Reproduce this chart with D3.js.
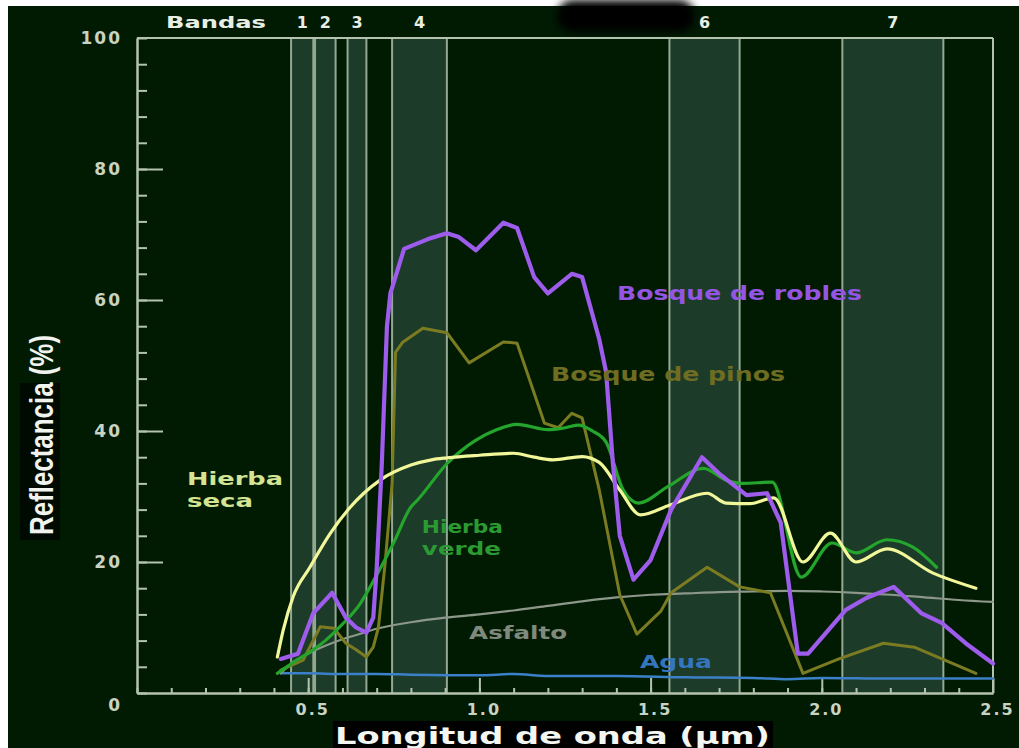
<!DOCTYPE html>
<html>
<head>
<meta charset="utf-8">
<script src="https://cdn.jsdelivr.net/npm/d3@7"></script>
<style>
  html, body { margin: 0; padding: 0; background: #ffffff; }
  svg { display: block; }
</style>
</head>
<body>
<svg id="chart" width="1019" height="748"></svg>
<script>
// ---------------- DATA ----------------
// Landsat-style spectral bands (µm)
const bandRanges = [[0.45, 0.515], [0.52, 0.58], [0.615, 0.67], [0.745, 0.905], [1.555, 1.76], [2.06, 2.355]];
const bandLabels = ["1", "2", "3", "4", "6", "7"];

// x tick values / labels
const xMajorTicks = [0.5, 1.0, 1.5, 2.0, 2.5];
const xMinorTicks = d3.range(0, 25).map(i => i / 10); // 0.0 ... 2.4 step 0.1
const yMajorTicks = [0, 20, 40, 60, 80, 100];
const yMinorTicks = d3.range(0, 26).map(i => i * 4);

// Series: [wavelength µm, reflectance %]
const bosqueRobles = [[0.42,5.2],[0.47,6.0],[0.515,12.2],[0.57,15.3],[0.61,11.5],[0.64,10.0],[0.67,9.2],[0.69,11.5],[0.70,19],[0.715,35],[0.73,56],[0.74,61],[0.78,67.8],[0.85,69.3],[0.905,70.2],[0.94,69.6],[0.99,67.6],[1.07,71.8],[1.11,71],[1.16,63.5],[1.20,61],[1.27,64],[1.30,63.5],[1.35,54],[1.37,49],[1.39,35],[1.41,24],[1.45,17.3],[1.50,20.3],[1.56,28],[1.65,36],[1.70,33.5],[1.78,30.2],[1.84,30.5],[1.88,26],[1.93,6],[1.96,6],[2.07,12.7],[2.13,14.5],[2.21,16.2],[2.29,12.2],[2.35,10.7],[2.42,7.6],[2.50,4.5]];

const bosquePinos = [[0.42,3.5],[0.485,5],[0.535,10.1],[0.575,9.9],[0.61,7.6],[0.64,6.6],[0.67,5.5],[0.69,7],[0.705,10],[0.725,20],[0.745,32],[0.755,52],[0.775,53.5],[0.835,55.7],[0.905,55],[0.97,50.4],[1.07,53.6],[1.11,53.4],[1.19,41.2],[1.23,40.5],[1.27,42.7],[1.30,42],[1.35,31],[1.41,15],[1.46,9],[1.53,12.5],[1.56,15.3],[1.665,19.2],[1.76,16.2],[1.85,15.3],[1.945,3],[2.05,5.2],[2.18,7.6],[2.27,7],[2.45,3]];

const hierbaVerde = [[0.41,3],[0.46,4.8],[0.515,6.6],[0.55,8],[0.60,10.5],[0.65,13.5],[0.70,18],[0.75,23],[0.80,28.4],[0.82,29.5],[0.905,35],[0.99,38.6],[1.05,40.2],[1.11,41],[1.20,40.2],[1.25,40.5],[1.29,40.9],[1.33,40],[1.37,38.3],[1.42,31],[1.465,29],[1.55,31.5],[1.655,34.3],[1.72,32.5],[1.77,32],[1.855,32.2],[1.94,17.7],[2.03,22.9],[2.10,21.4],[2.19,23.4],[2.265,22.3],[2.335,19.2]];

const hierbaSeca = [[0.41,5.5],[0.427,9.6],[0.456,14.7],[0.505,19.2],[0.565,24.4],[0.62,28.2],[0.71,32.5],[0.80,34.8],[0.86,35.6],[0.905,35.9],[1.0,36.3],[1.10,36.6],[1.16,36],[1.215,35.6],[1.30,36.1],[1.35,35.2],[1.41,31],[1.47,27.2],[1.557,28.7],[1.665,30.5],[1.72,29],[1.79,28.9],[1.86,29.8],[1.945,20],[2.025,24.4],[2.10,20],[2.19,22],[2.325,18.3],[2.45,16]];

const asfalto = [[0.42,3],[0.45,4.5],[0.5,6],[0.55,7.2],[0.6,8.2],[0.65,9],[0.7,9.8],[0.8,10.8],[0.9,11.5],[1.0,12],[1.1,12.6],[1.2,13.3],[1.3,14],[1.4,14.6],[1.5,15],[1.6,15.2],[1.7,15.4],[1.8,15.5],[1.9,15.6],[2.0,15.5],[2.1,15.3],[2.2,15],[2.3,14.6],[2.4,14.2],[2.5,13.9]];

const agua = [[0.42,3.0],[0.5,3.0],[0.6,2.9],[0.7,2.9],[0.8,2.8],[1.0,2.7],[1.1,2.9],[1.2,2.6],[1.4,2.6],[1.6,2.4],[1.8,2.3],[1.9,2.1],[2.0,2.3],[2.2,2.2],[2.5,2.2]];

const seriesNames = ["Agua", "Asfalto", "Bosque de pinos", "Hierba verde", "Hierba seca", "Bosque de robles"];
const seriesData  = [agua, asfalto, bosquePinos, hierbaVerde, hierbaSeca, bosqueRobles];

// ---------------- STYLE / LAYOUT ----------------
const W = 1019, H = 748;
const plot = { left: 137, right: 993, top: 38, bottom: 693 };
const BG = "#011b03";
const AXIS = "#b4c3ad";
const TICKTXT = "#c9d3c2";

const seriesStyle = {
  "Agua":             { color: "#3b80c8", width: 2.5, curve: d3.curveMonotoneX },
  "Asfalto":          { color: "#8d978a", width: 2.2, curve: d3.curveMonotoneX },
  "Bosque de pinos":  { color: "#7b7b22", width: 3,   curve: d3.curveLinear },
  "Hierba verde":     { color: "#24a52c", width: 3.2, curve: d3.curveMonotoneX },
  "Hierba seca":      { color: "#f2f79a", width: 3.2, curve: d3.curveMonotoneX },
  "Bosque de robles": { color: "#9e5cec", width: 4.2, curve: d3.curveLinear }
};

// label anchors in data units (left x, baseline y)
const labelSpecs = [
  { lines: ["Bosque de robles"], x: 1.402, y: 60.0, color: "#9456e2", size: 19, widths: [245] },
  { lines: ["Bosque de pinos"],  x: 1.209, y: 47.6, color: "#6e6d22", size: 19, widths: [234] },
  { lines: ["Hierba", "seca"],   x: 0.146, y: 31.8, color: "#d4e492", size: 18, widths: [96, 66], lh: 22 },
  { lines: ["Hierba", "verde"],  x: 0.832, y: 24.4, color: "#2c9a33", size: 17, widths: [81, 79], lh: 22 },
  { lines: ["Asfalto"],          x: 0.970, y: 8.2,  color: "#7f897c", size: 17, widths: [98] },
  { lines: ["Agua"],             x: 1.469, y: 3.8,  color: "#3575bd", size: 18, widths: [72] }
];

// ---------------- DRAW ----------------
const svg = d3.select("#chart");

// frame background
svg.append("rect").attr("x", 0).attr("y", 0).attr("width", W).attr("height", H).attr("fill", "#ffffff");
svg.append("rect").attr("x", 8).attr("y", 6).attr("width", W - 8).attr("height", H - 6).attr("fill", BG);

// blurred black blob at top
const defs = svg.append("defs");
defs.append("filter").attr("id", "blur").append("feGaussianBlur").attr("stdDeviation", 4);
svg.append("rect").attr("x", 557).attr("y", 0).attr("width", 138).attr("height", 32).attr("rx", 16)
  .attr("fill", "#000000").attr("filter", "url(#blur)");

const x = d3.scaleLinear().domain([0, 2.5]).range([plot.left, plot.right]);
const y = d3.scaleLinear().domain([0, 100]).range([plot.bottom, plot.top]);

// bands
const bands = svg.append("g");
bands.selectAll("rect").data(bandRanges).join("rect")
  .attr("x", d => x(d[0])).attr("y", plot.top)
  .attr("width", d => x(d[1]) - x(d[0])).attr("height", plot.bottom - plot.top)
  .attr("fill", "#1c3b29");
bands.selectAll("line.l").data(bandRanges).join("line").attr("class", "l")
  .attr("x1", d => x(d[0])).attr("x2", d => x(d[0])).attr("y1", plot.top).attr("y2", plot.bottom)
  .attr("stroke", "#94a993").attr("stroke-width", 2);
bands.selectAll("line.r").data(bandRanges).join("line").attr("class", "r")
  .attr("x1", d => x(d[1])).attr("x2", d => x(d[1])).attr("y1", plot.top).attr("y2", plot.bottom)
  .attr("stroke", "#94a993").attr("stroke-width", 2);

// band labels
svg.append("text").attr("x", 216).attr("y", 28).attr("text-anchor", "middle")
  .attr("font-family", "DejaVu Sans, sans-serif").attr("font-weight", "bold").attr("font-size", 16)
  .attr("textLength", 100).attr("lengthAdjust", "spacingAndGlyphs")
  .attr("fill", "#e8eee4").text("Bandas");
svg.selectAll("text.band").data(bandRanges).join("text").attr("class", "band")
  .attr("x", d => x((d[0] + d[1]) / 2)).attr("y", 28).attr("text-anchor", "middle")
  .attr("font-family", "DejaVu Sans, sans-serif").attr("font-weight", "bold").attr("font-size", 16)
  .attr("fill", "#e8eee4").text((d, i) => bandLabels[i]);

// top & right frame lines
svg.append("line").attr("x1", plot.left).attr("x2", plot.right).attr("y1", plot.top).attr("y2", plot.top)
  .attr("stroke", AXIS).attr("stroke-width", 2);
svg.append("line").attr("x1", plot.right).attr("x2", plot.right).attr("y1", plot.top).attr("y2", plot.bottom)
  .attr("stroke", AXIS).attr("stroke-width", 2);

// X axis minor ticks
svg.append("g").attr("transform", `translate(0,${plot.bottom})`)
  .call(d3.axisBottom(x).tickValues(xMinorTicks).tickSizeInner(-5).tickSizeOuter(0).tickFormat(""));
// X axis major
const gx = svg.append("g").attr("transform", `translate(0,${plot.bottom})`)
  .call(d3.axisBottom(x).tickValues(xMajorTicks).tickSizeInner(-15).tickSizeOuter(0).tickPadding(11).tickFormat(d3.format(".1f")));
gx.selectAll("text").attr("font-family", "DejaVu Sans, sans-serif").attr("font-size", 16).attr("font-weight", "bold")
  .attr("letter-spacing", 2).attr("fill", TICKTXT).attr("dx", 4);

// Y axis minor
svg.append("g").attr("transform", `translate(${plot.left},0)`)
  .call(d3.axisLeft(y).tickValues(yMinorTicks).tickSizeInner(-10).tickSizeOuter(0).tickFormat(""));
// Y axis major
const gy = svg.append("g").attr("transform", `translate(${plot.left},0)`)
  .call(d3.axisLeft(y).tickValues(yMajorTicks).tickSizeInner(-26).tickSizeOuter(0).tickPadding(15));
gy.selectAll("text").attr("font-family", "DejaVu Sans, sans-serif").attr("font-size", 17).attr("font-weight", "bold")
  .attr("letter-spacing", 2).attr("fill", TICKTXT)
  .attr("dy", d => d === 0 ? "1.0em" : "0.32em");
gy.selectAll(".tick").filter(d => d === 0 || d === 100).select("line").remove();

svg.selectAll(".domain").attr("stroke", AXIS).attr("stroke-width", 2);
svg.selectAll(".tick line").attr("stroke", AXIS).attr("stroke-width", 2);

// series lines
const linesG = svg.append("g");
seriesData.forEach((data, i) => {
  const st = seriesStyle[seriesNames[i]];
  const line = d3.line().x(d => x(d[0])).y(d => y(d[1])).curve(st.curve);
  linesG.append("path").datum(data).attr("d", line)
    .attr("fill", "none").attr("stroke", st.color).attr("stroke-width", st.width)
    .attr("stroke-linejoin", "round").attr("stroke-linecap", "round");
});

// series labels
labelSpecs.forEach(s => {
  s.lines.forEach((t, j) => {
    svg.append("text").attr("x", x(s.x)).attr("y", y(s.y) + j * (s.lh || 0))
      .attr("font-family", "DejaVu Sans, sans-serif").attr("font-weight", "bold").attr("font-size", s.size)
      .attr("textLength", s.widths[j]).attr("lengthAdjust", "spacingAndGlyphs")
      .attr("fill", s.color).text(t);
  });
});

// axis titles
svg.append("rect").attr("x", 333).attr("y", 721).attr("width", 440).attr("height", 27).attr("fill", "#000000");
svg.append("text").attr("x", 335).attr("y", 744)
  .attr("font-family", "DejaVu Sans, sans-serif").attr("font-weight", "bold").attr("font-size", 23)
  .attr("textLength", 435).attr("lengthAdjust", "spacingAndGlyphs")
  .attr("fill", "#f4f6f2").text("Longitud de onda  (µm)");

svg.append("rect").attr("x", 20).attr("y", 383).attr("width", 40).attr("height", 157).attr("fill", "#000000").attr("opacity", 0.6);
svg.append("text").attr("transform", "translate(53,535) rotate(-90)")
  .attr("font-family", "Liberation Sans, Arial, sans-serif").attr("font-weight", "bold").attr("font-size", 34)
  .attr("textLength", 200).attr("lengthAdjust", "spacingAndGlyphs")
  .attr("fill", "#f0f3ee").text("Reflectancia (%)");
</script>
</body>
</html>
